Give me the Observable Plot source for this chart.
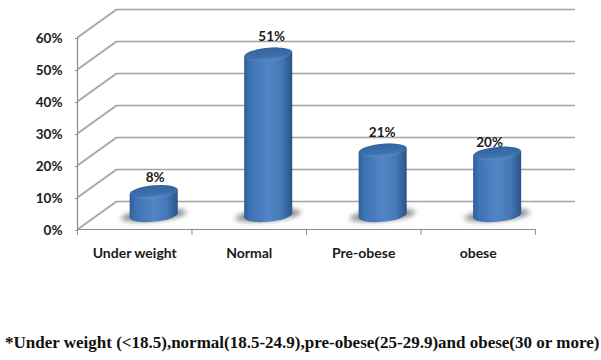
<!DOCTYPE html>
<html>
<head>
<meta charset="utf-8">
<script src="https://cdn.jsdelivr.net/npm/d3@7"></script>
<script src="https://cdn.jsdelivr.net/npm/@observablehq/plot@0.6"></script>
<style>
html,body{margin:0;padding:0;background:#fff;width:601px;height:360px;overflow:hidden}
#note{position:absolute;left:5px;top:333px;width:600px;white-space:nowrap;font:bold 17px "Liberation Serif",serif;color:#111}
</style>
</head>
<body>
<div id="chart"></div>
<div id="note"></div>
<script>
const categories = ["Under weight", "Normal", "Pre-obese", "obese"];
const percentages = [8, 51, 21, 20];
const yTicks = [0, 10, 20, 30, 40, 50, 60];
const note = "*Under weight (<18.5),normal(18.5-24.9),pre-obese(25-29.9)and obese(30 or more)";

// 3-D projection of the wall, expressed in scale units
const depthX = 0.34, depthY = 8.75, xEnd = 4.35;
const floorV = 3.6;               // the value zero of the cylinders on the floor
const baseV = 4.3;                // where the cylinder base ellipse sits
const barHalf = 0.21;             // half width in x units
const barCenter = i => i + 0.5 + depthX / 2;
const rx = 24, ry = 6.6, tilt = -5;
const labelDx = [1, 3, -1, -8], labelDy = [-15, -18, -18, -11];

const rows = categories.map((c, i) => ({c, i, v: percentages[i]}));
const skew = cx => `translate(${cx},0) skewY(${tilt}) translate(${-cx},0)`;

const defs = () => {
  const s = d3.create("svg:defs");
  const lg = s.append("linearGradient").attr("id", "cyl");
  [[0,"#2f5f9c"],[0.12,"#3e72b2"],[0.5,"#5285c6"],[0.78,"#4478b6"],[1,"#2b5488"]].forEach(([o,c]) =>
    lg.append("stop").attr("offset", o).attr("stop-color", c));
  const tg = s.append("linearGradient").attr("id", "cap").attr("x1",0).attr("y1",0).attr("x2",0).attr("y2",1);
  [[0,"#32639d"],[0.7,"#3d71ad"],[1,"#5c8dca"]].forEach(([o,c]) =>
    tg.append("stop").attr("offset", o).attr("stop-color", c));
  const f = s.append("filter").attr("id","blur").attr("x","-30%").attr("y","-60%").attr("width","160%").attr("height","220%");
  f.append("feGaussianBlur").attr("stdDeviation", 2.4);
  return s.node();
};

const underlay = (index, {x, y}) => {
  const g = d3.create("svg:g");
  rows.forEach(d => {
    const cx = x(barCenter(d.i)), cy = y(baseV);
    g.append("ellipse").attr("cx", cx).attr("cy", cy).attr("rx", 33).attr("ry", 6)
      .attr("fill", "#6a6c70").attr("fill-opacity", 0.75).attr("filter", "url(#blur)").attr("transform", skew(cx));
    g.append("ellipse").attr("cx", cx).attr("cy", cy).attr("rx", rx).attr("ry", ry)
      .attr("fill", "url(#cyl)").attr("transform", skew(cx));
  });
  return g.node();
};

const caps = (index, {x, y}) => {
  const g = d3.create("svg:g");
  rows.forEach(d => {
    const cx = x(barCenter(d.i)), cy = y(d.v + floorV);
    g.append("ellipse").attr("cx", cx).attr("cy", cy).attr("rx", rx).attr("ry", ry)
      .attr("fill", "url(#cap)").attr("transform", skew(cx));
  });
  return g.node();
};

const grey = "#a3a3a3";
const font = "Lato, 'Open Sans', sans-serif";

const plot = Plot.plot({
  width: 601, height: 300,
  marginLeft: 77, marginRight: 26, marginTop: 9, marginBottom: 71,
  style: {background: "#fff", fontFamily: font},
  x: {domain: [0, xEnd]},
  y: {domain: [0, 60 + depthY]},
  marks: [
    defs,
    // back wall
    Plot.ruleY(yTicks, {x1: depthX, x2: xEnd, y: d => d, dy: -28, stroke: grey, strokeWidth: 1.6}),
    // side wall diagonals
    Plot.link(yTicks, {x1: 0, x2: depthX, y1: d => d, y2: d => d + depthY, stroke: grey, strokeWidth: 1.6}),
    // front axis lines
    Plot.ruleX([0], {y1: 0, y2: 60, stroke: "#8c8c8c", strokeWidth: 1.2}),
    Plot.ruleY([0], {x1: 0, x2: 4, stroke: "#8c8c8c", strokeWidth: 1.2}),
    Plot.axisX({ticks: [0, 1, 2, 3, 4], tickFormat: () => "", tickSize: 6, stroke: "#8c8c8c", label: null}),
    Plot.axisY({ticks: yTicks, tickSize: 2, tickPadding: 13, tickFormat: d => d + "%", label: null, dy: 1,
      fontSize: 13.5, fontWeight: "bold", fill: "#1a1a1a", stroke: "#8c8c8c"}),
    Plot.axisX({ticks: [0.5, 1.5, 2.5, 3.5], tickSize: 0, tickPadding: 19, label: null,
      tickFormat: d => categories[d - 0.5], fontSize: 14, fontWeight: "bold", fill: "#1a1a1a"}),
    underlay,
    Plot.rectY(rows, {
      x1: d => barCenter(d.i) - barHalf, x2: d => barCenter(d.i) + barHalf,
      y1: baseV, y2: d => d.v + floorV, fill: "url(#cyl)",
      render(index, scales, values, dims, ctx, next) {
        const g = next(index, scales, values, dims, ctx);
        d3.select(g).selectAll("rect").attr("transform", function() {
          return skew(+this.getAttribute("x") + +this.getAttribute("width") / 2);
        });
        return g;
      }
    }),
    caps,
    ...rows.map((d, k) => Plot.text([d], {
      x: r => barCenter(r.i), y: r => r.v + floorV, text: r => r.v + "%",
      dx: labelDx[k], dy: labelDy[k], fontSize: 13.5, fontWeight: "bold", fill: "#1a1a1a"
    }))
  ]
});
document.getElementById("chart").appendChild(plot);
document.getElementById("note").textContent = note;
</script>
</body>
</html>
